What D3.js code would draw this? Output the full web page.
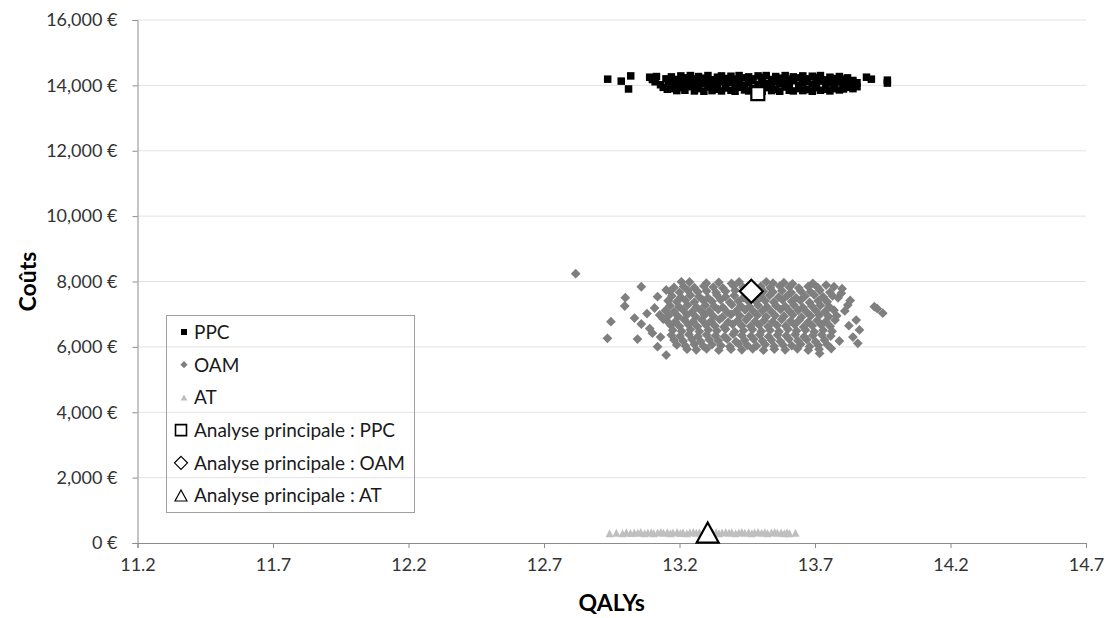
<!DOCTYPE html>
<html>
<head>
<meta charset="utf-8">
<script src="https://cdn.jsdelivr.net/npm/d3@7"></script>
<style>
  body { margin: 0; background: #fff; }
  text { font-family: Lato, "Open Sans", sans-serif; }
</style>
</head>
<body>
<svg id="chart" width="1108" height="618"></svg>
<script>
// tick labels
const xTicks = [11.2, 11.7, 12.2, 12.7, 13.2, 13.7, 14.2, 14.7];
const yTicks = [0, 2000, 4000, 6000, 8000, 10000, 12000, 14000, 16000];

// probabilistic simulations: [QALYs, cost]
const ppcPoints = [
  [12.935,14190],[12.985,14130],[13.02,14290],[13.012,13890],
  [13.09,14250],[13.10,14180],[13.11,14110],[13.115,14270],[13.13,14020],[13.14,13940],[13.15,14200],[13.155,13880],[13.16,14120],
  [13.17,14260],[13.17,14060],[13.17,13900],[13.19,14180],[13.19,13990],[13.19,13840],
  [13.205,14290],[13.205,14110],[13.205,13930],[13.22,14230],[13.22,14040],[13.22,13850],
  [13.24,14300],[13.24,14140],[13.24,13960],[13.255,14200],[13.255,14010],[13.255,13830],
  [13.27,14270],[13.27,14080],[13.27,13900],[13.29,14220],[13.29,14050],[13.29,13820],
  [13.305,14300],[13.305,14130],[13.305,13950],[13.32,14170],[13.32,13990],[13.32,13840],
  [13.34,14250],[13.34,14070],[13.34,13880],[13.355,14290],[13.355,14110],[13.355,13830],
  [13.37,14210],[13.37,14020],[13.37,13920],[13.39,14280],[13.39,14090],[13.39,13850],
  [13.405,14190],[13.405,14040],[13.405,13820],[13.42,14300],[13.42,14120],[13.42,13940],
  [13.44,14230],[13.44,14000],[13.44,13860],[13.455,14260],[13.455,14080],[13.455,13830],
  [13.47,14200],[13.47,14150],[13.47,13910],[13.49,14290],[13.49,14030],[13.49,13850],
  [13.505,14240],[13.505,14100],[13.505,13820],[13.52,14300],[13.52,14060],[13.52,13930],
  [13.54,14180],[13.54,14010],[13.54,13840],[13.555,14270],[13.555,14120],[13.555,13880],
  [13.57,14220],[13.57,14050],[13.57,13820],[13.59,14300],[13.59,14090],[13.59,13950],
  [13.605,14190],[13.605,14020],[13.605,13850],[13.62,14260],[13.62,14140],[13.62,13830],
  [13.64,14230],[13.64,14000],[13.64,13900],[13.655,14290],[13.655,14080],[13.655,13840],
  [13.67,14200],[13.67,14110],[13.67,13870],[13.69,14280],[13.69,14040],[13.69,13820],
  [13.705,14240],[13.705,14070],[13.705,13930],[13.72,14300],[13.72,14130],[13.72,13850],
  [13.74,14170],[13.74,14000],[13.74,13880],[13.755,14250],[13.755,14090],[13.755,13830],
  [13.77,14210],[13.77,14030],[13.77,13900],[13.79,14270],[13.79,14100],[13.79,13860],
  [13.805,14190],[13.805,14050],[13.805,13890],[13.82,14230],[13.82,14120],[13.82,13940],
  [13.84,14150],[13.84,14010],[13.84,13900],[13.855,14080],[13.855,13960],
  [13.89,14250],[13.908,14190],[13.967,14160],[13.967,14070]
];

const oamPoints = [
  // left fringe
  [12.817,8240],[13.059,7840],[13.0,7505],[12.998,7250],[12.947,6770],[12.934,6262],[13.034,6880],[13.059,6700],
  [13.045,6240],[13.119,7535],[13.151,7740],[13.108,7190],[13.127,6975],[13.119,6005],[13.151,5750],[13.08,7020],
  [13.10,6420],[13.13,6300],[13.14,6850],[13.09,6560],
  // body
  [13.207,7990],[13.237,7985],[13.299,7950],[13.345,7975],[13.392,7940],[13.42,7990],[13.52,7990],[13.545,7950],
  [13.585,7965],[13.617,7930],[13.692,7944],[13.741,7890],
  [13.18,7820],[13.215,7850],[13.255,7810],[13.29,7860],[13.325,7830],[13.36,7800],[13.40,7870],[13.435,7820],
  [13.50,7850],[13.535,7810],[13.57,7860],[13.605,7830],[13.64,7800],[13.675,7850],[13.71,7820],[13.77,7840],
  [13.165,7700],[13.2,7670],[13.232,7720],[13.268,7680],[13.30,7710],[13.335,7660],[13.37,7700],[13.405,7730],
  [13.44,7670],[13.475,7650],[13.51,7700],[13.545,7680],[13.578,7720],[13.612,7660],[13.648,7700],[13.683,7690],
  [13.718,7730],[13.755,7670],
  [13.172,7560],[13.205,7520],[13.24,7580],[13.272,7540],[13.305,7500],[13.338,7590],[13.37,7530],[13.402,7570],
  [13.436,7510],[13.468,7560],[13.5,7540],[13.533,7580],[13.566,7520],[13.598,7570],[13.63,7500],[13.663,7550],
  [13.697,7590],[13.73,7530],[13.765,7560],
  [13.158,7410],[13.19,7380],[13.222,7430],[13.255,7370],[13.288,7420],[13.32,7390],[13.352,7440],[13.386,7360],
  [13.418,7400],[13.45,7430],[13.483,7380],[13.516,7410],[13.548,7370],[13.58,7440],[13.614,7390],[13.646,7420],
  [13.68,7360],[13.712,7410],[13.745,7380],
  [13.165,7260],[13.198,7230],[13.23,7280],[13.262,7220],[13.295,7270],[13.328,7240],[13.36,7210],[13.393,7290],
  [13.426,7250],[13.458,7230],[13.49,7270],[13.523,7220],[13.556,7260],[13.59,7240],[13.622,7280],[13.655,7210],
  [13.688,7250],[13.72,7270],[13.752,7230],
  [13.148,7110],[13.18,7080],[13.213,7130],[13.246,7070],[13.278,7120],[13.31,7090],[13.343,7140],[13.376,7060],
  [13.41,7100],[13.442,7130],[13.474,7080],[13.507,7110],[13.54,7070],[13.573,7140],[13.606,7090],[13.638,7120],
  [13.67,7060],[13.703,7110],[13.737,7080],[13.77,7120],
  [13.16,6960],[13.195,6930],[13.228,6980],[13.26,6920],[13.292,6970],[13.325,6940],[13.358,6910],[13.39,6990],
  [13.423,6950],[13.456,6930],[13.488,6970],[13.52,6920],[13.553,6960],[13.586,6940],[13.618,6980],[13.65,6910],
  [13.684,6950],[13.716,6970],[13.75,6930],
  [13.152,6810],[13.185,6780],[13.218,6830],[13.25,6770],[13.283,6820],[13.316,6790],[13.348,6840],[13.38,6760],
  [13.414,6800],[13.446,6830],[13.479,6780],[13.512,6810],[13.544,6770],[13.577,6840],[13.61,6790],[13.642,6820],
  [13.675,6760],[13.708,6810],[13.74,6780],[13.774,6820],
  [13.168,6660],[13.2,6630],[13.233,6680],[13.266,6620],[13.298,6670],[13.331,6640],[13.364,6610],[13.396,6690],
  [13.43,6650],[13.462,6630],[13.494,6670],[13.527,6620],[13.56,6660],[13.592,6640],[13.625,6680],[13.658,6610],
  [13.69,6650],[13.723,6670],[13.756,6630],
  [13.175,6510],[13.208,6480],[13.24,6530],[13.273,6470],[13.306,6520],[13.338,6490],[13.37,6540],[13.404,6460],
  [13.436,6500],[13.469,6530],[13.502,6480],[13.534,6510],[13.567,6470],[13.6,6540],[13.632,6490],[13.665,6520],
  [13.697,6460],[13.73,6510],[13.763,6480],
  [13.17,6360],[13.202,6330],[13.235,6380],[13.268,6320],[13.3,6370],[13.333,6340],[13.366,6310],[13.398,6390],
  [13.43,6350],[13.464,6330],[13.496,6370],[13.529,6320],[13.562,6360],[13.594,6340],[13.627,6380],[13.66,6310],
  [13.692,6350],[13.725,6370],[13.758,6330],
  [13.18,6210],[13.213,6180],[13.246,6230],[13.278,6170],[13.31,6220],[13.343,6190],[13.376,6240],[13.408,6160],
  [13.44,6200],[13.474,6230],[13.506,6180],[13.539,6210],[13.572,6170],[13.604,6240],[13.637,6190],[13.67,6220],
  [13.702,6160],[13.735,6210],
  [13.19,6060],[13.222,6030],[13.255,6080],[13.288,6020],[13.32,6070],[13.353,6040],[13.386,6010],[13.418,6090],
  [13.45,6050],[13.484,6030],[13.516,6070],[13.549,6020],[13.582,6060],[13.614,6040],[13.647,6080],[13.68,6010],
  [13.712,6050],[13.745,6070],
  [13.228,5930],[13.262,5910],[13.30,5940],[13.345,5900],[13.39,5930],[13.43,5910],[13.47,5940],[13.51,5900],
  [13.55,5930],[13.59,5910],[13.635,5940],[13.675,5900],[13.715,5930],
  // right fringe
  [13.95,7030],[13.919,7230],[13.93,7170],[13.858,6110],[13.864,6520],[13.852,6820],[13.821,7280],[13.797,7640],
  [13.80,7780],[13.83,7420],[13.78,6950],[13.84,6300],[13.79,6180],[13.76,5950],[13.717,5800],[13.81,7100],
  [13.785,7500],[13.825,6650]
];

const atPoints = [
  [12.942,300],[12.967,315],[12.99,295],[13.004,330],[13.019,305],[13.033,320],[13.046,310],[13.057,335],
  [13.071,300],[13.083,325],[13.096,330],[13.105,300],[13.119,320],[13.131,340],[13.141,310],[13.155,330],
  [13.167,300],[13.176,320],[13.191,340],[13.203,305],[13.213,330],[13.227,300],[13.238,325],[13.251,340],
  [13.262,310],[13.273,330],[13.287,300],[13.299,320],[13.309,340],[13.323,310],[13.335,330],[13.346,300],
  [13.357,320],[13.371,340],[13.383,310],[13.393,330],[13.407,300],[13.419,325],[13.43,340],[13.441,310],
  [13.455,330],[13.467,300],[13.477,320],[13.49,340],[13.503,310],[13.515,330],[13.525,300],[13.539,320],
  [13.551,335],[13.561,310],[13.575,320],[13.587,300],[13.597,330],[13.606,295],[13.628,310]
];

// base-case (analyse principale) results
const baseNames = ["PPC", "OAM", "AT"];
const baseQaly = [13.489, 13.465, 13.304];
const baseCost = [13750, 7700, 320];

const legendLabels = ["PPC", "OAM", "AT",
  "Analyse principale : PPC", "Analyse principale : OAM", "Analyse principale : AT"];

const svg = d3.select("#chart");
const margin = { left: 137.5, right: 22, top: 20, bottom: 75 };
const W = 1108, H = 618;

const x = d3.scaleLinear().domain([11.2, 14.7]).range([margin.left, W - margin.right]);
const y = d3.scaleLinear().domain([0, 16000]).range([H - margin.bottom, margin.top]);

// marker shapes
function squarePath(s) { return `M${-s/2},${-s/2}h${s}v${s}h${-s}Z`; }
function diamondPath(r) { return `M0,${-r}L${r},0L0,${r}L${-r},0Z`; }
function trianglePath(w, h) { return `M0,${-h/2}L${w/2},${h/2}L${-w/2},${h/2}Z`; }

// grid lines
svg.append("g")
  .selectAll("line")
  .data(yTicks.filter(d => d > 0))
  .join("line")
  .attr("x1", x.range()[0]).attr("x2", x.range()[1])
  .attr("y1", d => y(d)).attr("y2", d => y(d))
  .attr("stroke", "#e3e3e3").attr("stroke-width", 1);

// axes
const yAxis = svg.append("g")
  .attr("transform", `translate(${margin.left},0)`)
  .call(d3.axisLeft(y).tickValues(yTicks).tickSize(5).tickPadding(15)
    .tickFormat(d => d3.format(",")(d) + " €"));
const xAxis = svg.append("g")
  .attr("transform", `translate(0,${y(0)})`)
  .call(d3.axisBottom(x).tickValues(xTicks).tickSize(5).tickPadding(10)
    .tickFormat(d3.format(".1f")));

[yAxis, xAxis].forEach(g => {
  g.select(".domain").attr("stroke", "#8c8c8c");
  g.selectAll(".tick line").attr("stroke", "#8c8c8c");
  g.selectAll(".tick text").attr("fill", "#333").style("font-size", "18px")
    .style("font-family", "Lato, 'Open Sans', sans-serif");
});

// legend box, no fill: grid lines stay visible through it
const legend = svg.append("g");
legend.append("rect")
  .attr("x", 166.5).attr("y", 315.5).attr("width", 248).attr("height", 197)
  .attr("fill", "none").attr("stroke", "#a0a0a0").attr("stroke-width", 1);

const legendMarks = [
  { d: squarePath(6), fill: "#000", stroke: "none", sw: 0, dx: 184 },
  { d: diamondPath(3.6), fill: "#7f7f7f", stroke: "none", sw: 0, dx: 184 },
  { d: trianglePath(7, 6), fill: "#bfbfbf", stroke: "none", sw: 0, dx: 184 },
  { d: squarePath(11), fill: "#fff", stroke: "#000", sw: 1.6, dx: 181 },
  { d: diamondPath(6.5), fill: "#fff", stroke: "#000", sw: 1.2, dx: 181 },
  { d: trianglePath(12, 11), fill: "#fff", stroke: "#000", sw: 1.2, dx: 181 }
];

const items = legend.selectAll("g.item")
  .data(legendLabels)
  .join("g")
  .attr("class", "item")
  .attr("transform", (d, i) => `translate(0,${332 + i * 32.7})`);

items.append("path")
  .attr("transform", (d, i) => `translate(${legendMarks[i].dx},0)`)
  .attr("d", (d, i) => legendMarks[i].d)
  .attr("fill", (d, i) => legendMarks[i].fill)
  .attr("stroke", (d, i) => legendMarks[i].stroke)
  .attr("stroke-width", (d, i) => legendMarks[i].sw);

items.append("text")
  .attr("x", 194)
  .attr("dy", "0.36em")
  .attr("fill", "#1a1a1a")
  .style("font-size", "19px")
  .text(d => d);

// simulation clouds
svg.append("g").selectAll("path")
  .data(ppcPoints)
  .join("path")
  .attr("transform", d => `translate(${x(d[0])},${y(d[1])})`)
  .attr("d", squarePath(7.5))
  .attr("fill", "#000");

svg.append("g").selectAll("path")
  .data(oamPoints)
  .join("path")
  .attr("transform", d => `translate(${x(d[0])},${y(d[1])})`)
  .attr("d", diamondPath(4.9))
  .attr("fill", "#7f7f7f");

svg.append("g").selectAll("path")
  .data(atPoints)
  .join("path")
  .attr("transform", d => `translate(${x(d[0])},${y(d[1])})`)
  .attr("d", trianglePath(8, 8))
  .attr("fill", "#bfbfbf");

// base-case markers
const baseShapes = [squarePath(13), diamondPath(11.5), trianglePath(22, 20)];
svg.append("g").selectAll("path")
  .data(baseNames)
  .join("path")
  .attr("transform", (d, i) => `translate(${x(baseQaly[i])},${y(baseCost[i])})`)
  .attr("d", (d, i) => baseShapes[i])
  .attr("fill", "#fff")
  .attr("stroke", "#000")
  .attr("stroke-width", 2.2);

// axis titles
svg.append("text")
  .attr("x", (x.range()[0] + x.range()[1]) / 2).attr("y", 611)
  .attr("text-anchor", "middle")
  .style("font-size", "23px").style("font-weight", "bold")
  .text("QALYs");

svg.append("text")
  .attr("transform", `translate(36,${(y(0) + y(16000)) / 2}) rotate(-90)`)
  .attr("text-anchor", "middle")
  .style("font-size", "23px").style("font-weight", "bold")
  .text("Coûts");
</script>
</body>
</html>
